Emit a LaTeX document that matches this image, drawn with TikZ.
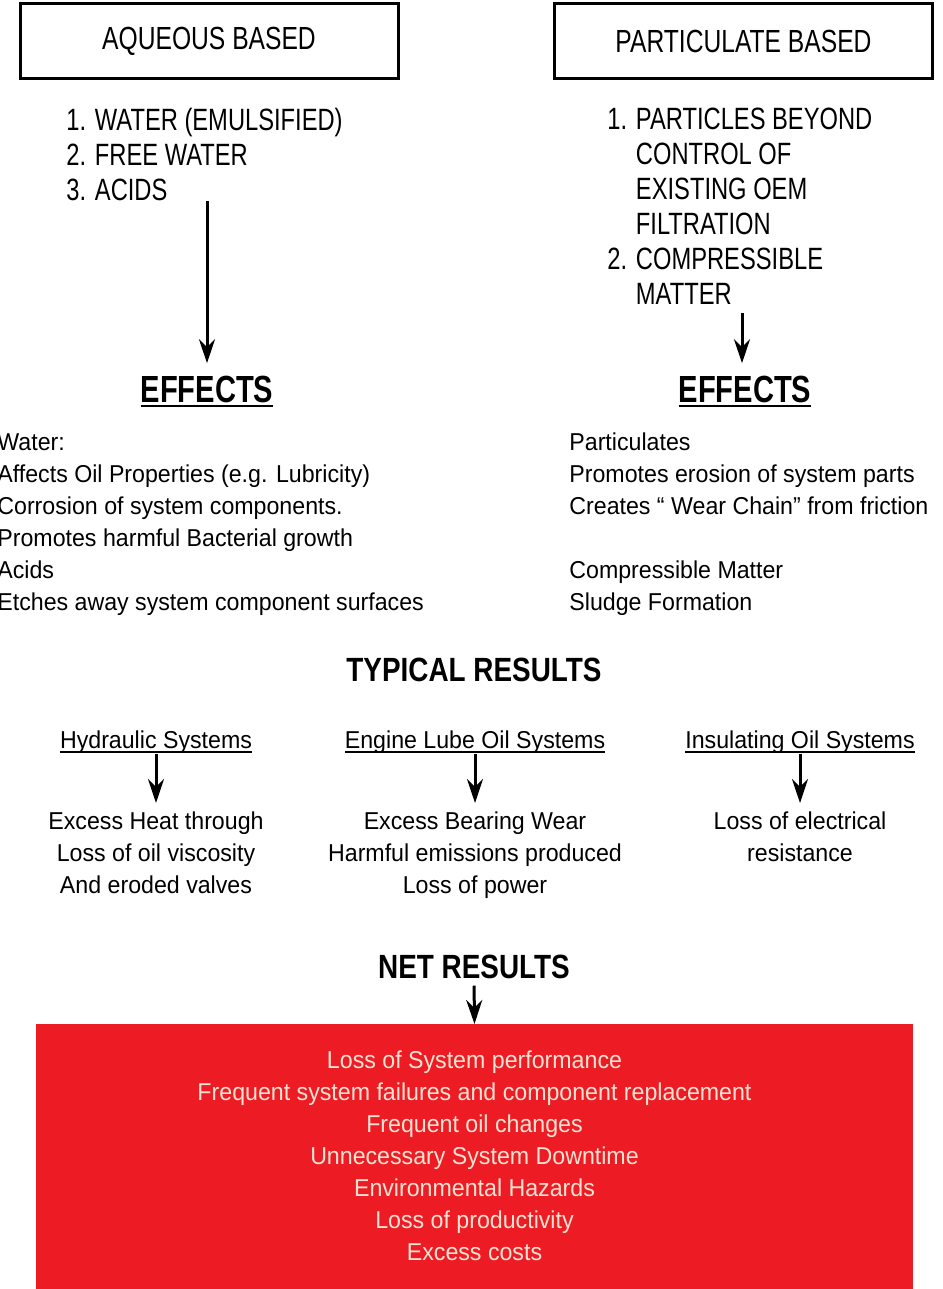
\documentclass[tikz,border=0pt]{standalone}
\usepackage{fontspec}
\setmainfont{Liberation Sans}[FakeStretch=0.95]
\newfontfamily\condfont{Liberation Sans}[FakeStretch=0.77]
\newfontfamily\titlefont{Liberation Sans}[FakeStretch=0.83]
\usepackage{tikz}
\usetikzlibrary{positioning, arrows.meta}
\definecolor{netred}{HTML}{ED1C24}
\definecolor{nettext}{HTML}{FCE2D2}
\newcommand{\ulined}[1]{\setbox0=\hbox{#1}\rlap{\rule[-2.6pt]{\wd0}{1.1pt}}\box0}
\tikzset{headbox/.style={draw,line width=1.5pt,minimum width=189pt,minimum height=37.5pt,inner sep=0pt,font=\condfont\fontsize{16}{19}\selectfont}}
\tikzset{arr/.style={line width=1.5pt,-{Stealth[length=12pt,width=8pt]}}}
\begin{document}
\begin{tikzpicture}[x=0.5pt,y=-0.5pt,
        listtext/.style={inner sep=0pt,align=left,font=\condfont\fontsize{15.4}{17.5}\selectfont},
        bodytext/.style={inner sep=0pt,font=\fontsize{12.2}{16}\selectfont},
        title/.style={inner sep=0pt,font=\titlefont\bfseries\fontsize{16.8}{20}\selectfont}]
        \useasboundingbox (0,0) rectangle (942,1289);
        \node (aq) at (209,41.5) [headbox] {AQUEOUS BASED};
        \node (pa) at (743.5,41.5) [headbox] {PARTICULATE BASED};
        \node (listL) at (66,108) [listtext,anchor=north west] {1. WATER (EMULSIFIED)\\2. FREE WATER\\3. ACIDS};
        \node (listR) at (607,108) [listtext,anchor=north west] {1. PARTICLES BEYOND\\\phantom{1. }CONTROL OF\\\phantom{1. }EXISTING OEM\\\phantom{1. }FILTRATION\\2. COMPRESSIBLE\\\phantom{2. }MATTER};
        \node (effL) at (207,402) [title,anchor=base,font=\condfont\bfseries\fontsize{18.9}{22}\selectfont] {\ulined{EFFECTS}};
        \node (effR) at (745,402) [title,anchor=base,font=\condfont\bfseries\fontsize{18.9}{22}\selectfont] {\ulined{EFFECTS}};
        \draw[arr,shorten >=6pt] (listL.south -| effL.north) -- (effL.north);
        \draw[arr,shorten <=4pt,shorten >=6pt] ([xshift=-1.5pt]listR.south -| effR.north) -- ([xshift=-1.5pt]effR.north);
        \node (txtL) at (-3,433) [bodytext,anchor=north west,align=left] {Water:\\Affects Oil Properties (e.g. Lubricity)\\Corrosion of system components.\\Promotes harmful Bacterial growth\\Acids\\Etches away system component surfaces};
        \node (txtR) at (569,432) [bodytext,anchor=north west,align=left] {Particulates\\Promotes erosion of system parts\\Creates `` Wear Chain'' from friction\\[16pt]Compressible Matter\\Sludge Formation};
        \node (typ) at (474,681) [title,anchor=base] {TYPICAL RESULTS};
        \node (hyd) at (156,748) [bodytext,anchor=base] {\ulined{Hydraulic Systems}};
        \node (eng) at (475,748) [bodytext,anchor=base] {\ulined{Engine Lube Oil Systems}};
        \node (ins) at (800,748) [bodytext,anchor=base] {\ulined{Insulating Oil Systems}};
        \node (resH) at (156,811) [bodytext,anchor=north,align=center] {Excess Heat through\\Loss of oil viscosity\\And eroded valves};
        \node (resE) at (475,811) [bodytext,anchor=north,align=center] {Excess Bearing Wear\\Harmful emissions produced\\Loss of power};
        \node (resI) at (800,811) [bodytext,anchor=north,align=center] {Loss of electrical\\resistance};
        \draw[arr,shorten >=4pt] (hyd.south) -- (resH.north);
        \draw[arr,shorten >=4pt] (eng.south) -- (resE.north);
        \draw[arr,shorten >=4pt] (ins.south) -- (resI.north);
        \node (net) at (474,978) [title,anchor=base] {NET RESULTS};
        \node (netbox) at (474.5,1024) [anchor=north,fill=netred,minimum width=438.5pt,minimum height=135pt,bodytext,align=center,text=nettext] {Loss of System performance\\Frequent system failures and component replacement\\Frequent oil changes\\Unnecessary System Downtime\\Environmental Hazards\\Loss of productivity\\Excess costs\rule[-3.5pt]{0pt}{3.5pt}};
        \draw[arr,shorten <=3.5pt] (net.south) -- (netbox.north);
\end{tikzpicture}
\end{document}
